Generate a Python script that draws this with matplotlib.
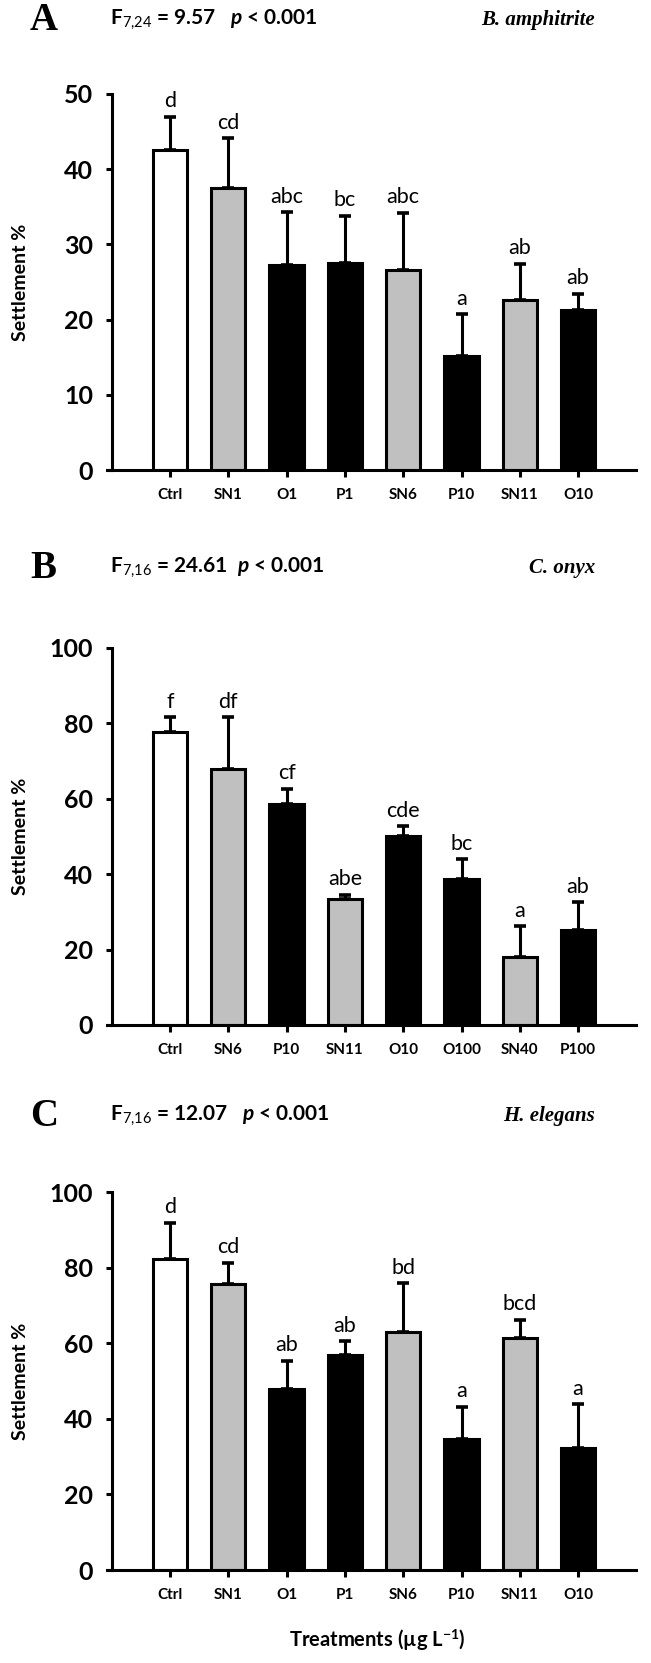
import matplotlib
matplotlib.use("Agg")
import matplotlib.pyplot as plt
import numpy as np

plt.rcParams["font.family"] = ["Lato", "DejaVu Sans"]
plt.rcParams["mathtext.fontset"] = "custom"
plt.rcParams["mathtext.rm"] = "Lato"
plt.rcParams["mathtext.it"] = "Lato:italic"
plt.rcParams["mathtext.bf"] = "Lato:bold"
plt.rcParams["mathtext.bfit"] = "Lato:italic:bold"

# ---- data -------------------------------------------------------------
cats_a = ["Ctrl", "SN1", "O1", "P1", "SN6", "P10", "SN11", "O10"]
mean_a = [42.6, 37.5, 27.3, 27.5, 26.6, 15.2, 22.6, 21.3]
err_a = [4.4, 6.6, 7.0, 6.3, 7.6, 5.5, 4.8, 2.1]
sig_a = ["d", "cd", "abc", "bc", "abc", "a", "ab", "ab"]

cats_b = ["Ctrl", "SN6", "P10", "SN11", "O10", "O100", "SN40", "P100"]
mean_b = [77.6, 68.0, 58.5, 33.4, 50.1, 38.7, 18.0, 25.1]
err_b = [4.0, 13.6, 4.2, 1.2, 2.6, 5.3, 8.2, 7.5]
sig_b = ["f", "df", "cf", "abe", "cde", "bc", "a", "ab"]

cats_c = ["Ctrl", "SN1", "O1", "P1", "SN6", "P10", "SN11", "O10"]
mean_c = [82.3, 75.6, 48.0, 56.8, 62.9, 34.6, 61.4, 32.4]
err_c = [9.5, 5.7, 7.4, 3.7, 13.0, 8.6, 4.8, 11.4]
sig_c = ["d", "cd", "ab", "ab", "bd", "a", "bcd", "a"]

W, H = 651, 1663
fig = plt.figure(figsize=(W / 100, H / 100), dpi=100)

UNIT = 58.3       # px between bar centres
X0 = 170.0        # px of first bar centre
XMIN, XMAX = -1.08, 8.0


def bar_color(name):
    if name == "Ctrl":
        return "white"
    if name.startswith("SN"):
        return "#c0c0c0"
    return "black"


def panel(top, bottom, cats, means, errs, sigs, ymax, step,
          letter, fstat, species, header_y):
    left_px = X0 + XMIN * UNIT
    right_px = X0 + XMAX * UNIT
    ax = fig.add_axes([left_px / W, 1 - bottom / H,
                       (right_px - left_px) / W, (bottom - top) / H])
    x = np.arange(len(cats))
    ax.bar(x, means, width=0.59, color=[bar_color(c) for c in cats],
           edgecolor="black", linewidth=2.2, zorder=2)
    ax.errorbar(x, means, yerr=[np.zeros(len(errs)), errs], fmt="none",
                ecolor="black", elinewidth=2.2, capsize=4.5, capthick=2.6,
                zorder=1)
    for xi, m, e, s in zip(x, means, errs, sigs):
        ax.annotate(s, (xi, m + e), xytext=(0, 4), textcoords="offset points",
                    ha="center", va="bottom", fontsize=15.5)
    ax.set_xlim(XMIN, XMAX)
    ax.set_ylim(0, ymax)
    ax.spines["left"].set_position(("data", -1))
    ax.spines["top"].set_visible(False)
    ax.spines["right"].set_visible(False)
    ax.spines["left"].set_linewidth(2.2)
    ax.spines["bottom"].set_linewidth(2.2)
    ax.spines["left"].set_bounds(0, ymax)
    ax.set_yticks(np.arange(0, ymax + 1, step))
    ax.set_xticks(x)
    ax.set_xticklabels(cats, fontsize=11, fontweight="bold")
    for lab in ax.get_yticklabels():
        lab.set_fontweight("bold")
        lab.set_fontsize(18)
    ax.tick_params(axis="y", direction="out", length=4.5, width=2.2, pad=9)
    ax.tick_params(axis="x", direction="out", length=5, width=2.2, pad=8)
    ax.set_ylabel("Settlement %", fontsize=14, fontweight="bold")
    ax.yaxis.set_label_coords((29 - left_px) / (right_px - left_px), 0.5)

    fig.text(30 / W, 1 - header_y / H, letter, fontsize=28,
             fontweight="bold", family="Liberation Serif", va="center")
    fig.text(110 / W, 1 - header_y / H, fstat, fontsize=15,
             fontweight="bold", va="center")
    fig.text(595 / W, 1 - header_y / H, species, fontsize=15,
             fontweight="bold", style="italic", family="Liberation Serif",
             ha="right", va="center")
    return ax


panel(94, 470, cats_a, mean_a, err_a, sig_a, 50, 10, "A",
      r"F$_{\mathrm{7{,}24}}$ = 9.57   $\mathbfit{p}$ < 0.001",
      "B. amphitrite", 20)
panel(648, 1025, cats_b, mean_b, err_b, sig_b, 100, 20, "B",
      r"F$_{\mathrm{7{,}16}}$ = 24.61  $\mathbfit{p}$ < 0.001",
      "C. onyx", 568)
panel(1192, 1570, cats_c, mean_c, err_c, sig_c, 100, 20, "C",
      r"F$_{\mathrm{7{,}16}}$ = 12.07   $\mathbfit{p}$ < 0.001",
      "H. elegans", 1116)

fig.text(377 / W, 1 - 1640 / H, r"Treatments (µg L$^{\mathbf{-1}}$)",
         fontsize=14.5, fontweight="bold", ha="center", va="center")

fig.savefig("out.png", dpi=100)
